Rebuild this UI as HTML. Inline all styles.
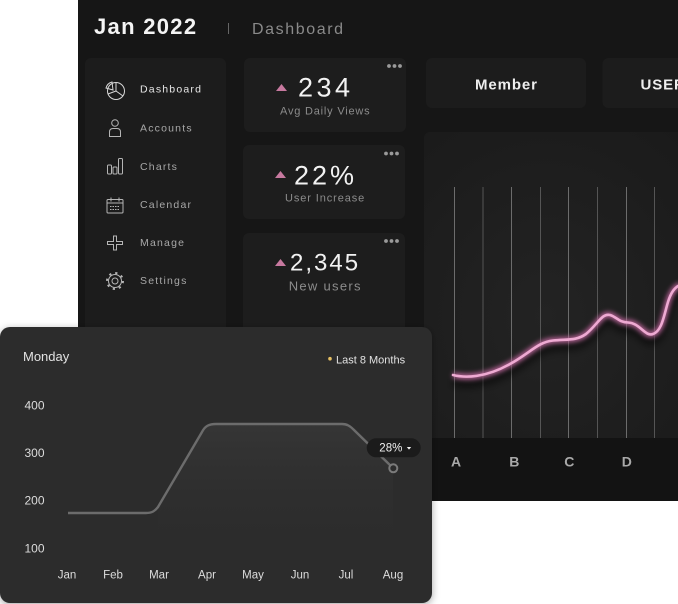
<!DOCTYPE html>
<html><head><meta charset="utf-8">
<style>
html,body{margin:0;padding:0;background:#fff;}
body{width:678px;height:604px;overflow:hidden;position:relative;}
svg{display:block;position:absolute;left:0;top:0;}
text{font-family:"Liberation Sans",sans-serif;}
</style></head>
<body>
<svg width="678" height="604" viewBox="0 0 678 604" xmlns="http://www.w3.org/2000/svg">
<defs>
  <radialGradient id="panelG" cx="0.45" cy="0.6" r="0.8">
    <stop offset="0" stop-color="#232323"/>
    <stop offset="1" stop-color="#1a1a1a"/>
  </radialGradient>
  <linearGradient id="areaG" x1="0" y1="0" x2="0" y2="1">
    <stop offset="0" stop-color="#3a3a3a" stop-opacity="0.7"/>
    <stop offset="1" stop-color="#2c2c2c" stop-opacity="0"/>
  </linearGradient>
  <filter id="glow" x="-20%" y="-50%" width="140%" height="200%">
    <feGaussianBlur stdDeviation="2.5"/>
  </filter>
  <filter id="shadowBlur" x="-20%" y="-50%" width="140%" height="200%">
    <feGaussianBlur stdDeviation="4"/>
  </filter>
  <filter id="cardShadow" x="-10%" y="-10%" width="120%" height="120%">
    <feGaussianBlur stdDeviation="4"/>
  </filter>
</defs>

<!-- dashboard panel -->
<rect x="78" y="0" width="600" height="501" fill="#161616"/>

<!-- header -->
<text x="94" y="34" font-size="22" font-weight="bold" fill="#f4f4f4" letter-spacing="1.3">Jan 2022</text>
<line x1="228.5" y1="23" x2="228.5" y2="34" stroke="#666" stroke-width="1"/>
<text x="252" y="34" font-size="16" fill="#8a8a8a" letter-spacing="1.6">Dashboard</text>

<!-- sidebar -->
<rect x="85" y="58" width="141" height="280" rx="6" fill="#1c1c1c"/>
<g font-size="10.5" letter-spacing="1.2" fill="#a8a8a8">
  <text x="140" y="92.5" fill="#e6e6e6">Dashboard</text>
  <text x="140" y="131.7">Accounts</text>
  <text x="140" y="170">Charts</text>
  <text x="140" y="208">Calendar</text>
  <text x="140" y="246">Manage</text>
  <text x="140" y="284">Settings</text>
</g>
<g fill="none" stroke="#b5b5b5" stroke-width="1">
  <circle cx="116" cy="91" r="8.5" stroke="#d8d8d8"/>
  <path d="M116,91 L116,82.5 M116,91 L108,94 M116,91 L123,96" stroke="#d8d8d8"/>
  <path d="M113,90 L106,88 A8.5,8.5 0 0 1 112,82 Z" stroke="#d8d8d8"/>
  <circle cx="115" cy="123" r="3.3"/>
  <path d="M109.5,136.5 L109.5,132 Q109.5,128.5 113,128.5 L117,128.5 Q120.5,128.5 120.5,132 L120.5,136.5 Z"/>
  <rect x="107.5" y="165" width="4" height="9" rx="1"/>
  <rect x="113" y="167" width="4" height="7" rx="1"/>
  <rect x="118.5" y="158.5" width="4" height="15.5" rx="1"/>
  <rect x="107" y="199.5" width="16" height="13.5" rx="1"/>
  <line x1="107" y1="203" x2="123" y2="203"/>
  <line x1="111" y1="197.5" x2="111" y2="201.5"/>
  <line x1="119" y1="197.5" x2="119" y2="201.5"/>
  <path d="M110,206.5 h10 M110,209.5 h10" stroke-dasharray="1.5 1"/>
  <path d="M113.5,236 h3 v5.5 h6 v3 h-6 v5.5 h-3 v-5.5 h-6 v-3 h6 Z"/>
  <circle cx="115" cy="281" r="6.5"/>
  <circle cx="115" cy="281" r="3"/>
  <circle cx="115" cy="281" r="8" stroke-width="2" stroke-dasharray="2.2 4.08" fill="none"/>
</g>

<!-- stat cards -->
<rect x="244" y="58" width="162" height="74" rx="6" fill="#1d1d1d"/>
<rect x="243" y="145" width="162" height="74" rx="6" fill="#1d1d1d"/>
<rect x="243" y="233" width="162" height="100" rx="6" fill="#1d1d1d"/>

<g fill="#c7799f">
  <polygon points="276,91 281.5,84 287,91"/>
  <polygon points="275,178 280.5,171 286,178"/>
  <polygon points="275,266 280.5,259 286,266"/>
</g>
<g fill="#9a9a9a">
  <circle cx="389" cy="66" r="1.9"/><circle cx="394.5" cy="66" r="1.9"/><circle cx="400" cy="66" r="1.9"/>
  <circle cx="386" cy="153.5" r="1.9"/><circle cx="391.5" cy="153.5" r="1.9"/><circle cx="397" cy="153.5" r="1.9"/>
  <circle cx="386" cy="241" r="1.9"/><circle cx="391.5" cy="241" r="1.9"/><circle cx="397" cy="241" r="1.9"/>
</g>
<g fill="#f2f2f2">
  <text x="298" y="96.7" font-size="27" letter-spacing="3.5">234</text>
  <text x="294" y="184.5" font-size="27" letter-spacing="3">22%</text>
  <text x="290" y="270.7" font-size="24" letter-spacing="2">2,345</text>
</g>
<g fill="#8c8c8c">
  <text x="280" y="114.3" font-size="11" letter-spacing="0.8">Avg Daily Views</text>
  <text x="285" y="201.7" font-size="11" letter-spacing="0.9">User Increase</text>
  <text x="288.7" y="290.7" font-size="13" letter-spacing="1.3">New users</text>
</g>

<!-- member / user cards -->
<rect x="426" y="58" width="160" height="50" rx="6" fill="#1c1c1c"/>
<rect x="602.5" y="58" width="90" height="50" rx="6" fill="#1c1c1c"/>
<text x="475" y="89.3" font-size="15" font-weight="bold" fill="#eeeeee" letter-spacing="0.9">Member</text>
<text x="640.5" y="89.3" font-size="15" font-weight="bold" fill="#eeeeee" letter-spacing="0.9">USER</text>

<!-- right chart panel -->
<rect x="424" y="132" width="270" height="306" rx="6" fill="url(#panelG)"/>
<rect x="424" y="438" width="254" height="63" fill="#131313"/>
<g stroke="#6c6c6c" stroke-width="1">
  <line x1="454.5" y1="187" x2="454.5" y2="438"/>
  <line x1="483" y1="187" x2="483" y2="438" stroke="#555"/>
  <line x1="511.5" y1="187" x2="511.5" y2="438"/>
  <line x1="540.5" y1="187" x2="540.5" y2="438" stroke="#555"/>
  <line x1="568.5" y1="187" x2="568.5" y2="438"/>
  <line x1="597.5" y1="187" x2="597.5" y2="438" stroke="#555"/>
  <line x1="626.5" y1="187" x2="626.5" y2="438"/>
  <line x1="654.5" y1="187" x2="654.5" y2="438" stroke="#555"/>
</g>
<g font-size="14" font-weight="bold" fill="#a9a9a9">
  <text x="451" y="466.7">A</text>
  <text x="509.3" y="466.7">B</text>
  <text x="564.3" y="466.7">C</text>
  <text x="621.7" y="466.7">D</text>
</g>
<path d="M453,375 C465,378 485,378 510,364 C530,353 538,342 553,340.5 C568,339 576,341 586,334 C598,324 602,313 610,315 C617,317 618,322 628,322.5 C640,323 645,337 653,334 C662,331 664,315 668,302 C671,292 675,287 680,285" fill="none" stroke="#000" stroke-opacity="0.55" stroke-width="8" transform="translate(0,7)" filter="url(#shadowBlur)"/>
<path d="M453,375 C465,378 485,378 510,364 C530,353 538,342 553,340.5 C568,339 576,341 586,334 C598,324 602,313 610,315 C617,317 618,322 628,322.5 C640,323 645,337 653,334 C662,331 664,315 668,302 C671,292 675,287 680,285" fill="none" stroke="#d36fac" stroke-opacity="0.8" stroke-width="6" filter="url(#glow)"/>
<path d="M453,375 C465,378 485,378 510,364 C530,353 538,342 553,340.5 C568,339 576,341 586,334 C598,324 602,313 610,315 C617,317 618,322 628,322.5 C640,323 645,337 653,334 C662,331 664,315 668,302 C671,292 675,287 680,285" fill="none" stroke="#eeaad2" stroke-width="2.6" stroke-linecap="round"/>

<!-- bottom-left card -->
<rect x="0" y="329" width="432" height="276" rx="10" fill="#000" fill-opacity="0.35" filter="url(#cardShadow)"/>
<rect x="0" y="327" width="432" height="276" rx="10" fill="#2c2c2c"/>
<text x="23" y="361" font-size="13" fill="#e2e2e2">Monday</text>
<circle cx="330" cy="358.7" r="1.8" fill="#e6bf62"/>
<text x="336" y="363.3" font-size="11" fill="#e2e2e2">Last 8 Months</text>
<g font-size="12" fill="#dcdcdc">
  <text x="24.5" y="409.3">400</text>
  <text x="24.5" y="457">300</text>
  <text x="24.5" y="504.3">200</text>
  <text x="24.5" y="552.3">100</text>
</g>
<g font-size="11.5" fill="#dcdcdc" text-anchor="middle">
  <text x="67" y="578.7">Jan</text>
  <text x="113" y="578.7">Feb</text>
  <text x="159" y="578.7">Mar</text>
  <text x="207" y="578.7">Apr</text>
  <text x="253" y="578.7">May</text>
  <text x="300" y="578.7">Jun</text>
  <text x="346" y="578.7">Jul</text>
  <text x="393" y="578.7">Aug</text>
</g>
<path d="M158,507 L202,432 C205,426 209,424 216,424 L342,424 C347,424 350,426 354,430 L393,468 L393,560 L158,560 Z" fill="url(#areaG)"/>
<path d="M68,513 L146,513 C152,513 155,511 158,507 L202,432 C205,426 209,424 216,424 L342,424 C347,424 350,426 354,430 L393,468" fill="none" stroke="#6c6c6c" stroke-width="2.4" stroke-linejoin="round"/>
<circle cx="393.3" cy="468.3" r="4" fill="#2c2c2c" stroke="#7a7a7a" stroke-width="2"/>
<rect x="366.7" y="438.3" width="54" height="19" rx="9.5" fill="#1b1b1b"/>
<text x="379.3" y="451.7" font-size="11.5" fill="#f0f0f0">28%</text>
<polygon points="406.8,447 411.2,447 409,449.6" fill="#f0f0f0"/>
</svg>
</body></html>
